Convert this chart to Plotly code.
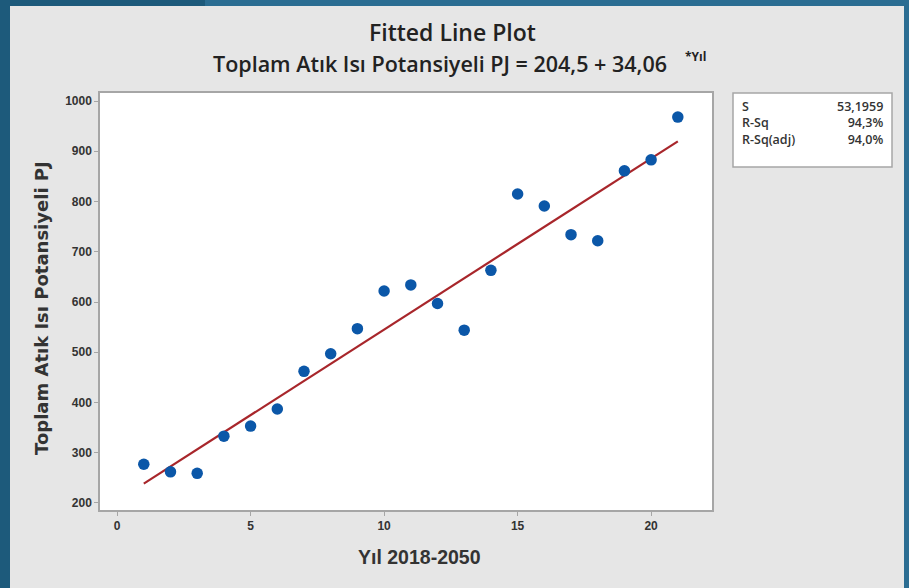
import plotly.graph_objects as go

# ---- data ----
yil = list(range(1, 22))
potansiyel = [277, 262, 259, 333, 353, 387, 462, 497, 547, 622, 634, 597,
              544, 663, 815, 791, 734, 722, 861, 883, 968]
intercept = 204.5
slope = 34.06
stat_labels = ["S", "R-Sq", "R-Sq(adj)"]
stat_values = ["53,1959", "94,3%", "94,0%"]
x_ticks = [0, 5, 10, 15, 20]
y_ticks = [200, 300, 400, 500, 600, 700, 800, 900, 1000]

W, H = 909, 588
L, R, T, B = 100, 712, 93, 510  # plot frame in px

def px_x(p):
    return (p - L) / (R - L)

def px_y(p):
    return (B - p) / (B - T)

fit_x = [min(yil), max(yil)]
fit_y = [intercept + slope * v for v in fit_x]

fig = go.Figure()
fig.add_trace(go.Scatter(x=fit_x, y=fit_y, mode="lines",
                         line=dict(color="#a8262b", width=2.2),
                         hoverinfo="skip", showlegend=False))
fig.add_trace(go.Scatter(x=yil, y=potansiyel, mode="markers",
                         marker=dict(color="#0b57a8", size=11.5),
                         showlegend=False))

tickfont = dict(family="Liberation Sans", size=12, color="#333333", weight="bold")
axcommon = dict(showgrid=False, zeroline=False, showline=True, mirror=True,
                linecolor="#a6a6a6", linewidth=1.5, ticks="outside",
                ticklen=4, tickcolor="#a6a6a6", tickfont=tickfont)

fig.update_xaxes(range=[-0.64, 22.28], tickvals=x_ticks, **axcommon)
fig.update_yaxes(range=[186, 1016], tickvals=y_ticks, **axcommon)

shapes = []
dark, light = "#1d5a7b", "#2b6d92"
shapes.append(dict(type="rect", xref="paper", yref="paper", layer="above",
                   x0=px_x(0), x1=px_x(10), y0=px_y(H), y1=px_y(0),
                   fillcolor=dark, line=dict(width=0)))
shapes.append(dict(type="rect", xref="paper", yref="paper", layer="above",
                   x0=px_x(0), x1=px_x(205), y0=px_y(6), y1=px_y(0),
                   fillcolor=dark, line=dict(width=0)))
shapes.append(dict(type="rect", xref="paper", yref="paper", layer="above",
                   x0=px_x(205), x1=px_x(W), y0=px_y(6), y1=px_y(0),
                   fillcolor=light, line=dict(width=0)))
shapes.append(dict(type="rect", xref="paper", yref="paper", layer="above",
                   x0=px_x(904), x1=px_x(W), y0=px_y(H), y1=px_y(0),
                   fillcolor=light, line=dict(width=0)))
shapes.append(dict(type="rect", xref="paper", yref="paper",
                   x0=px_x(733), x1=px_x(892), y0=px_y(167), y1=px_y(93),
                   fillcolor="#ffffff", line=dict(color="#a6a6a6", width=1.5)))

annotations = [
    dict(text="Fitted Line Plot", x=px_x(452), y=px_y(32), xref="paper", yref="paper",
         showarrow=False, xanchor="center", yanchor="middle",
         font=dict(family="Open Sans", size=23, color="#222222", weight=600)),
    dict(text="Toplam Atık Isı Potansiyeli PJ = 204,5 + 34,06",
         x=px_x(440), y=px_y(63), xref="paper", yref="paper",
         showarrow=False, xanchor="center", yanchor="middle",
         font=dict(family="Open Sans", size=21.5, color="#222222", weight=600)),
    dict(text="*Yıl", x=px_x(683), y=px_y(56), xref="paper", yref="paper",
         showarrow=False, xanchor="left", yanchor="middle",
         font=dict(family="Open Sans", size=12, color="#222222", weight=700)),
    dict(text="Yıl 2018-2050", x=px_x(419), y=px_y(557), xref="paper", yref="paper",
         showarrow=False, xanchor="center", yanchor="middle",
         font=dict(family="Liberation Sans", size=19.5, color="#333333", weight="bold")),
    dict(text="Toplam Atık Isı Potansiyeli PJ", x=px_x(41), y=px_y(308),
         xref="paper", yref="paper", textangle=-90,
         showarrow=False, xanchor="center", yanchor="middle",
         font=dict(family="DejaVu Sans", size=18, color="#333333", weight="bold")),
    dict(text="<br>".join(stat_labels), x=px_x(740), y=px_y(123), xref="paper", yref="paper",
         showarrow=False, xanchor="left", yanchor="middle", align="left",
         font=dict(family="Open Sans", size=12.5, color="#333333", weight=600)),
    dict(text="<br>".join(stat_values), x=px_x(885), y=px_y(123), xref="paper", yref="paper",
         showarrow=False, xanchor="right", yanchor="middle", align="right",
         font=dict(family="Open Sans", size=12.5, color="#333333", weight=600)),
]

fig.update_layout(
    width=W, height=H,
    margin=dict(l=L, r=W - R, t=T, b=H - B, pad=0),
    paper_bgcolor="#e6e6e6", plot_bgcolor="#ffffff",
    shapes=shapes, annotations=annotations,
    showlegend=False,
)

fig.write_html(
    "out.html",
    config={"displayModeBar": False},
    post_script="document.body.style.margin='0';document.body.style.padding='0';"
                "document.body.style.background='#1d5a7b';",
)
